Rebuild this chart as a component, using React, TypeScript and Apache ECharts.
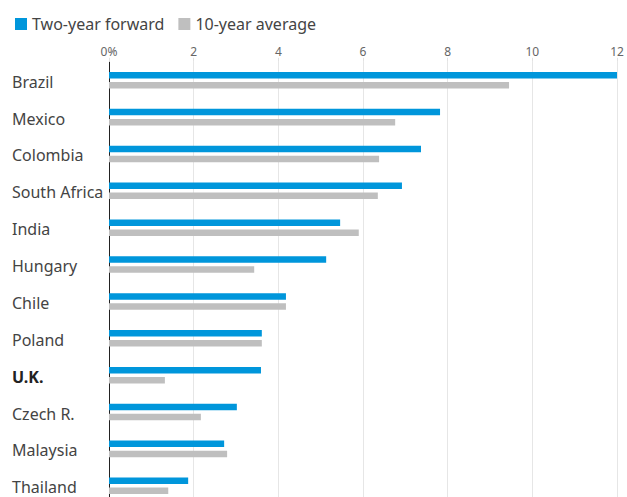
import React, { useEffect, useRef } from "react";
import * as echarts from "echarts";

const categories = ["Brazil", "Mexico", "Colombia", "South Africa", "India", "Hungary", "Chile", "Poland", "U.K.", "Czech R.", "Malaysia", "Thailand"];
const twoYearForward = [12.0, 7.82, 7.37, 6.92, 5.46, 5.13, 4.18, 3.61, 3.59, 3.02, 2.72, 1.87];
const tenYearAverage = [9.45, 6.76, 6.38, 6.35, 5.9, 3.43, 4.18, 3.61, 1.32, 2.17, 2.79, 1.4];
const xTicks = [0, 2, 4, 6, 8, 10, 12];

const FONT = "'Noto Sans', sans-serif";

export default function App() {
  const ref = useRef<HTMLDivElement>(null);
  useEffect(() => {
    if (!ref.current) return;
    const chart = echarts.init(ref.current, null, { renderer: "svg" });
    chart.setOption({
      animation: false,
      backgroundColor: "#ffffff",
      legend: {
        left: 10,
        top: 11,
        icon: "rect",
        itemWidth: 12,
        itemHeight: 12,
        itemGap: 14,
        itemTextGap: 7,
        textStyle: { fontFamily: FONT, fontSize: 16, color: "#444" },
        data: ["Two-year forward", "10-year average"],
      },
      grid: { left: 109, right: 10, top: 61.8, bottom: 5.8, containLabel: false },
      xAxis: {
        type: "value",
        position: "top",
        min: xTicks[0],
        max: xTicks[xTicks.length - 1],
        interval: 2,
        axisLine: { show: false },
        axisTick: { show: true, length: 4, lineStyle: { color: "#e2e2e2" } },
        splitLine: { show: true, lineStyle: { color: "#e6e6e6", width: 1 } },
        axisLabel: {
          margin: 4,
          fontFamily: FONT,
          fontSize: 12,
          color: "#666",
          formatter: (v: number) => (v === 0 ? "0%" : String(v)),
        },
      },
      yAxis: {
        type: "category",
        inverse: true,
        data: categories,
        axisLine: { show: true, lineStyle: { color: "#222", width: 1 } },
        axisTick: { show: false },
        axisLabel: {
          align: "left",
          margin: 97,
          padding: [3, 0, 0, 0],
          fontFamily: FONT,
          fontSize: 16,
          color: "#444",
          formatter: (v: string) => (v === "U.K." ? "{b|" + v + "}" : v),
          rich: { b: { fontFamily: FONT, fontSize: 16, fontWeight: "bold", color: "#222" } },
        },
      },
      series: [
        {
          name: "Two-year forward",
          type: "bar",
          data: twoYearForward,
          barWidth: 6.5,
          barGap: "55%",
          itemStyle: { color: "#0096db" },
        },
        {
          name: "10-year average",
          type: "bar",
          data: tenYearAverage,
          barWidth: 6.5,
          barGap: "55%",
          itemStyle: { color: "#bfbfbf" },
        },
      ],
    });
    return () => chart.dispose();
  }, []);
  return (
    <div style={{ position: "absolute", left: 0, top: 0, width: 627, height: 497, overflow: "hidden" }}>
      <div ref={ref} style={{ width: 627, height: 510 }} />
    </div>
  );
}
